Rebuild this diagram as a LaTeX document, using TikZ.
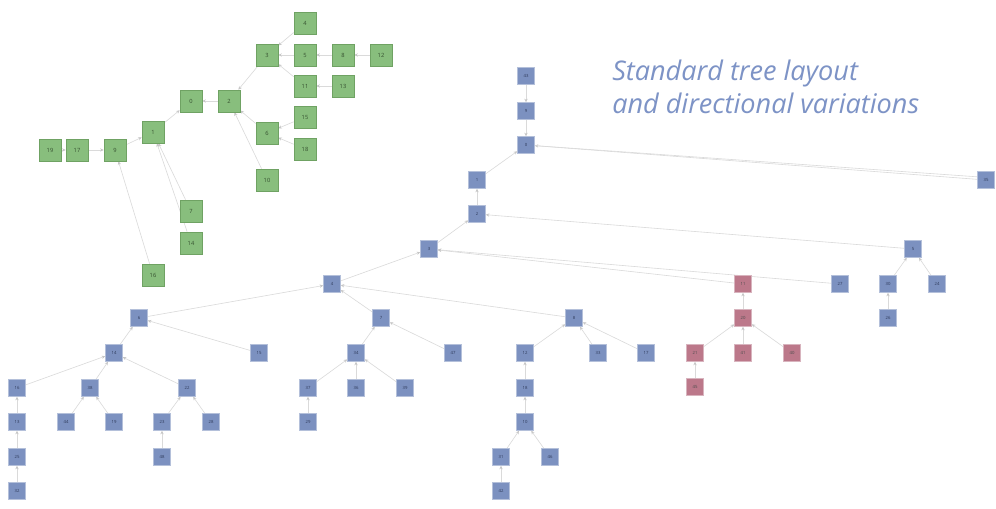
\documentclass[tikz,border=0pt]{standalone}
\usepackage{fontspec}
\setmainfont{Open Sans}
\usetikzlibrary{arrows.meta}
\pgfdeclarelayer{bg}
\pgfsetlayers{bg,main}
\definecolor{gfill}{HTML}{88BE7D}
\definecolor{gline}{HTML}{6FA263}
\definecolor{bfill}{HTML}{7C91C0}
\definecolor{bline}{HTML}{B4C0DA}
\definecolor{rfill}{HTML}{BC788A}
\definecolor{rline}{HTML}{D8B4BE}
\definecolor{edgec}{HTML}{DADADA}
\definecolor{tipc}{HTML}{C6C6C6}
\definecolor{titlec}{HTML}{7D93C6}
\definecolor{gtext}{HTML}{35502F}
\definecolor{btext}{HTML}{2E3A5A}
\tikzset{
  gnode/.style={draw=gline, line width=0.5pt, fill=gfill, minimum size=16.5pt, inner sep=0pt,
    font=\fontsize{4.3}{5}\selectfont, text=gtext},
  bnode/.style={draw=bline, line width=0.4pt, fill=bfill, minimum size=12.75pt, inner sep=0pt,
    font=\fontsize{3.2}{4}\selectfont, text=btext},
  rnode/.style={bnode, draw=rline, fill=rfill, text=black!70},
  edge/.style={draw=edgec, line width=0.45pt, -{Stealth[length=2.6pt,width=2.4pt,color=tipc]}},
  plainedge/.style={draw=edgec, line width=0.45pt},
  titletext/.style={anchor=base west, inner sep=0pt, text=titlec,
    font=\fontsize{20.3}{24}\selectfont\itshape}
}
\begin{document}
\begin{tikzpicture}[x=0.75pt,y=-0.75pt]
\useasboundingbox (0,0) rectangle (996,508);
\begin{pgfonlayer}{bg}
\fill[white] (0,0) rectangle (996,508);
\end{pgfonlayer}

% ---------- title ----------
\node[titletext] (t1) at (612,80) {Standard tree layout};
\node[titletext] (t2) at (612,113) {and directional variations};

% ---------- green graph ----------
\node[gnode] (g19) at (50,150) {19};
\node[gnode] (g17) at (77,150) {17};
\node[gnode] (g9) at (115,150) {9};
\node[gnode] (g1) at (153,132) {1};
\node[gnode] (g0) at (191,101) {0};
\node[gnode] (g2) at (229,101) {2};
\node[gnode] (g3) at (267,55) {3};
\node[gnode] (g4) at (305,23) {4};
\node[gnode] (g5) at (305,55) {5};
\node[gnode] (g8) at (343,55) {8};
\node[gnode] (g12) at (381,55) {12};
\node[gnode] (g11) at (305,86) {11};
\node[gnode] (g13) at (343,86) {13};
\node[gnode] (g6) at (267,133) {6};
\node[gnode] (g15) at (305,117) {15};
\node[gnode] (g18) at (305,149) {18};
\node[gnode] (g10) at (267,180) {10};
\node[gnode] (g7) at (191,211) {7};
\node[gnode] (g14) at (191,243) {14};
\node[gnode] (g16) at (153,275) {16};

% ---------- blue tree nodes ----------
\node[bnode] (b43) at (526,76) {43};
\node[bnode] (b9) at (526,111) {9};
\node[bnode] (b0) at (526,145) {0};
\node[bnode] (b1) at (477,180) {1};
\node[bnode] (b2) at (477,214) {2};
\node[bnode] (b35) at (986,180) {35};
\node[bnode] (b3) at (429,249) {3};
\node[bnode] (b5) at (913,249) {5};
\node[bnode] (b4) at (332,284) {4};
\node[rnode] (b11) at (743,284) {11};
\node[bnode] (b27) at (840,284) {27};
\node[bnode] (b30) at (888,284) {30};
\node[bnode] (b24) at (937,284) {24};
\node[bnode] (b6) at (139,318) {6};
\node[bnode] (b7) at (381,318) {7};
\node[bnode] (b8) at (574,318) {8};
\node[rnode] (b20) at (743,318) {20};
\node[bnode] (b26) at (888,318) {26};
\node[bnode] (b14) at (114,353) {14};
\node[bnode] (b15) at (259,353) {15};
\node[bnode] (b34) at (356,353) {34};
\node[bnode] (b47) at (453,353) {47};
\node[bnode] (b12) at (525,353) {12};
\node[bnode] (b33) at (598,353) {33};
\node[bnode] (b17) at (646,353) {17};
\node[rnode] (b21) at (695,353) {21};
\node[rnode] (b41) at (743,353) {41};
\node[rnode] (b40) at (792,353) {40};
\node[bnode] (b16) at (17,388) {16};
\node[bnode] (b38) at (90,388) {38};
\node[bnode] (b22) at (187,388) {22};
\node[bnode] (b37) at (308,388) {37};
\node[bnode] (b36) at (356,388) {36};
\node[bnode] (b39) at (405,388) {39};
\node[bnode] (b18) at (525,388) {18};
\node[rnode] (b45) at (695,387) {45};
\node[bnode] (b13) at (17,422) {13};
\node[bnode] (b44) at (66,422) {44};
\node[bnode] (b19) at (114,422) {19};
\node[bnode] (b23) at (162,422) {23};
\node[bnode] (b28) at (211,422) {28};
\node[bnode] (b29) at (308,422) {29};
\node[bnode] (b10) at (525,422) {10};
\node[bnode] (b25) at (17,457) {25};
\node[bnode] (b48) at (162,457) {48};
\node[bnode] (b31) at (501,457) {31};
\node[bnode] (b46) at (550,457) {46};
\node[bnode] (b32) at (17,491) {32};
\node[bnode] (b42) at (501,491) {42};

% ---------- edges (child -> parent), behind the nodes ----------
\begin{pgfonlayer}{bg}
\foreach \c/\p in {19/17, 17/9, 9/1, 16/9, 1/0, 7/1, 14/1, 2/0, 3/2, 6/2, 10/2,
                   4/3, 5/3, 11/3, 8/5, 12/8, 13/11, 15/6, 18/6}
  \draw[edge] (g\c) -- (g\p);

\foreach \c/\p in {43/9, 9/0, 1/0, 35/0, 2/1, 3/2, 5/2, 4/3, 11/3, 27/3, 30/5, 24/5, 26/30,
                   6/4, 7/4, 8/4, 20/11, 21/20, 41/20, 40/20, 45/21,
                   14/6, 15/6, 16/14, 38/14, 22/14, 13/16, 25/13, 32/25, 44/38, 19/38,
                   23/22, 28/22, 48/23, 34/7, 47/7, 37/34, 36/34, 39/34, 29/37,
                   12/8, 33/8, 17/8, 18/12, 10/18, 31/10, 46/10, 42/31}
  \draw[edge] (b\c) -- (b\p);
\draw[plainedge] (b35.160) -- (b0);
\end{pgfonlayer}
\end{tikzpicture}
\end{document}
